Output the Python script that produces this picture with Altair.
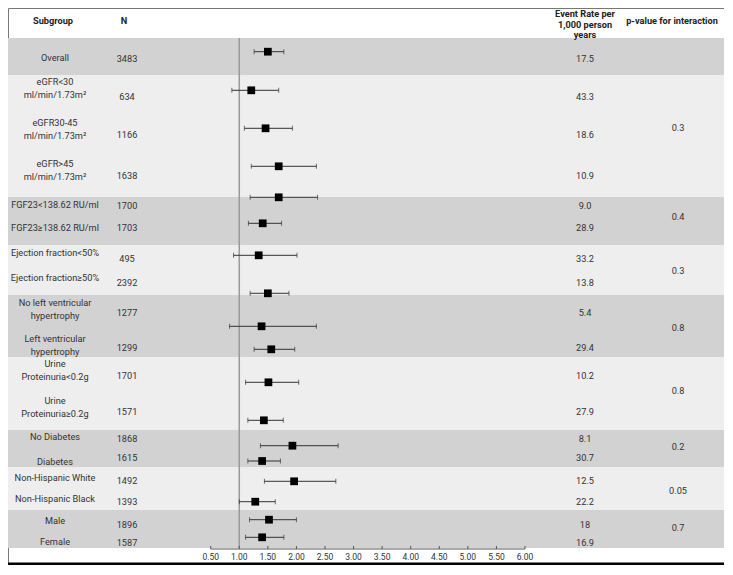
import altair as alt
import pandas as pd

# ---------------- data ----------------
subgroups = [
    "Overall",
    "eGFR<30\nml/min/1.73m²",
    "eGFR30-45\nml/min/1.73m²",
    "eGFR>45\nml/min/1.73m²",
    "FGF23<138.62 RU/ml",
    "FGF23≥138.62 RU/ml",
    "Ejection fraction<50%",
    "Ejection fraction≥50%",
    "No left ventricular\nhypertrophy",
    "Left ventricular\nhypertrophy",
    "Urine\nProteinuria<0.2g",
    "Urine\nProteinuria≥0.2g",
    "No Diabetes",
    "Diabetes",
    "Non-Hispanic White",
    "Non-Hispanic Black",
    "Male",
    "Female",
]
n_values = [3483, 634, 1166, 1638, 1700, 1703, 495, 2392, 1277, 1299,
            1701, 1571, 1868, 1615, 1492, 1393, 1896, 1587]
hazard_ratio = [1.50, 1.21, 1.46, 1.69, 1.69, 1.41, 1.34, 1.50, 1.39, 1.56,
                1.51, 1.43, 1.93, 1.40, 1.96, 1.28, 1.52, 1.40]
ci_low = [1.26, 0.87, 1.09, 1.21, 1.19, 1.16, 0.90, 1.19, 0.83, 1.26,
          1.11, 1.15, 1.37, 1.15, 1.44, 1.00, 1.18, 1.11]
ci_high = [1.78, 1.69, 1.93, 2.35, 2.37, 1.74, 2.01, 1.87, 2.35, 1.97,
           2.04, 1.77, 2.73, 1.72, 2.69, 1.63, 2.00, 1.78]
event_rate = ["17.5", "43.3", "18.6", "10.9", "9.0", "28.9", "33.2", "13.8", "5.4",
              "29.4", "10.2", "27.9", "8.1", "30.7", "12.5", "22.2", "18", "16.9"]
group_names = ["Overall", "eGFR", "FGF23", "Ejection fraction", "LVH",
               "Proteinuria", "Diabetes", "Race", "Sex"]
p_interaction = ["", "0.3", "0.4", "0.3", "0.8", "0.8", "0.2", "0.05", "0.7"]
tick_values = [0.5, 1.0, 1.5, 2.0, 2.5, 3.0, 3.5, 4.0, 4.5, 5.0, 5.5, 6.0]
reference_value = 1.0

# ---------------- layout (table row positions, page units) ----------------
# first text line of each subgroup label
label_y = [57.5, 82, 123, 163.5, 205, 227.7, 252.7, 277.7, 302.5, 338.5,
           364, 400.7, 437.3, 461.7, 478.3, 499, 520.7, 541.7]
value_y = [58.5, 96.7, 135, 176, 205.5, 228.3, 258.5, 283, 312.5, 348,
           375.7, 412, 439.2, 458, 480.5, 502.3, 524.5, 542.7]
marker_y = [51.7, 90.3, 128.3, 166.3, 197.3, 223.3, 255.3, 293.3, 326.3, 349.3,
            382.3, 420.3, 445.7, 461, 481.3, 501.7, 519.7, 537.3]
band_top = [38, 75, 197, 245, 295, 357, 430, 467, 510]
band_bottom = [75, 197, 245, 295, 357, 430, 467, 510, 548]
band_shade = ["#d2d2d2", "#eeeeee", "#d2d2d2", "#eeeeee", "#d2d2d2",
              "#eeeeee", "#d2d2d2", "#eeeeee", "#d2d2d2"]
p_y = [57, 127.7, 217.3, 270.7, 327.7, 390.7, 446.7, 491.3, 528]
axis_y = 549
tick_label_y = 557

W, H = 716, 557
FONT = "Roboto"
FS = 9.2
TEXT = "#333333"

rows = pd.DataFrame({
    "subgroup": subgroups, "n": n_values, "hr": hazard_ratio,
    "lo": ci_low, "hi": ci_high, "rate": event_rate,
    "label_y": label_y, "value_y": value_y, "marker_y": marker_y,
})
bands = pd.DataFrame({"group": group_names, "top": band_top, "bottom": band_bottom,
                      "shade": band_shade, "p": p_interaction, "p_y": p_y})
ticks = pd.DataFrame({"v": tick_values})
ticks["y"] = axis_y
ticks["y2"] = axis_y - 3
ticks["ly"] = tick_label_y
ticks["label"] = [f"{v:.2f}" for v in tick_values]
ref = pd.DataFrame({"x": [reference_value], "top": [band_top[0]], "bottom": [band_bottom[-1]]})
axis_line = pd.DataFrame({"a": [tick_values[0]], "b": [tick_values[-1]], "y": [axis_y]})

xscale = alt.Scale(domain=[-3.0472, 9.4824], nice=False, zero=False)
yscale = alt.Scale(domain=[8, 8 + H], reverse=True, nice=False, zero=False)


def X(f):
    return alt.X(f, type="quantitative", scale=xscale, axis=None)


def Y(f):
    return alt.Y(f, type="quantitative", scale=yscale, axis=None)


band_layer = alt.Chart(bands).mark_rect().encode(
    x=alt.value(0), x2=alt.value(W), y=Y("top"), y2="bottom",
    color=alt.Color("shade:N", scale=None),
)
ref_layer = alt.Chart(ref).mark_rule(color="#9a9a9a", strokeWidth=1.5).encode(
    x=X("x"), y=Y("top"), y2="bottom")
ci_layer = alt.Chart(rows).mark_rule(color="#333333", strokeWidth=1).encode(
    x=X("lo"), x2="hi", y=Y("marker_y"))
cap_lo = alt.Chart(rows).mark_tick(orient="vertical", size=5, thickness=1, color="#333333").encode(
    x=X("lo"), y=Y("marker_y"))
cap_hi = alt.Chart(rows).mark_tick(orient="vertical", size=5, thickness=1, color="#333333").encode(
    x=X("hi"), y=Y("marker_y"))
marker_layer = alt.Chart(rows).mark_square(size=60, color="black", opacity=1).encode(
    x=X("hr"), y=Y("marker_y"))

axis_layer = alt.Chart(axis_line).mark_rule(color="#555555", strokeWidth=1).encode(
    x=X("a"), x2="b", y=Y("y"))
tick_layer = alt.Chart(ticks).mark_rule(color="#555555", strokeWidth=1).encode(
    x=X("v"), y=Y("y"), y2="y2")
tick_text = alt.Chart(ticks).mark_text(font=FONT, fontSize=8.5, color=TEXT, baseline="middle").encode(
    x=X("v"), y=Y("ly"), text="label:N")

label_text = alt.Chart(rows).mark_text(
    font=FONT, fontSize=FS, color=TEXT, align="center", baseline="middle",
    lineBreak="\n", lineHeight=13).encode(
    x=alt.value(47), y=Y("label_y"), text="subgroup:N")
n_text = alt.Chart(rows).mark_text(font=FONT, fontSize=FS, color=TEXT, baseline="middle").encode(
    x=alt.value(119), y=Y("value_y"), text="n:N")
rate_text = alt.Chart(rows).mark_text(font=FONT, fontSize=FS, color=TEXT, baseline="middle").encode(
    x=alt.value(577), y=Y("value_y"), text="rate:N")
p_text = alt.Chart(bands).mark_text(font=FONT, fontSize=FS, color=TEXT, baseline="middle").encode(
    x=alt.value(670), y=Y("p_y"), text="p:N")

headers = pd.DataFrame({
    "t": ["Subgroup", "N", "Event Rate per\n1,000 person\nyears", "p-value for interaction"],
    "y": [21, 21, 14, 21],
})
HDR = dict(font=FONT, fontSize=FS, fontWeight="bold", color="#222222", baseline="middle")
h1 = alt.Chart(headers.iloc[[0]]).mark_text(**HDR).encode(x=alt.value(45), y=Y("y"), text="t:N")
h2 = alt.Chart(headers.iloc[[1]]).mark_text(**HDR).encode(x=alt.value(116), y=Y("y"), text="t:N")
h3 = alt.Chart(headers.iloc[[2]]).mark_text(lineBreak="\n", lineHeight=10.5, **HDR).encode(
    x=alt.value(577), y=Y("y"), text="t:N")
h4 = alt.Chart(headers.iloc[[3]]).mark_text(**HDR).encode(x=alt.value(664), y=Y("y"), text="t:N")

bottom_line = alt.Chart(pd.DataFrame({"k": [0]})).mark_rule(color="black", strokeWidth=3).encode(
    x=alt.value(0), x2=alt.value(W), y=alt.value(H - 1))

chart = alt.layer(
    band_layer, ref_layer, ci_layer, cap_lo, cap_hi, marker_layer,
    axis_layer, tick_layer, tick_text,
    label_text, n_text, rate_text, p_text, h1, h2, h3, h4, bottom_line,
).properties(
    width=W, height=H, padding=0, autosize=alt.AutoSizeParams(type="none"),
    background="white",
).configure_view(stroke="#777777", strokeWidth=1)

chart.save("out.html", embed_options={"renderer": "svg", "actions": False})
